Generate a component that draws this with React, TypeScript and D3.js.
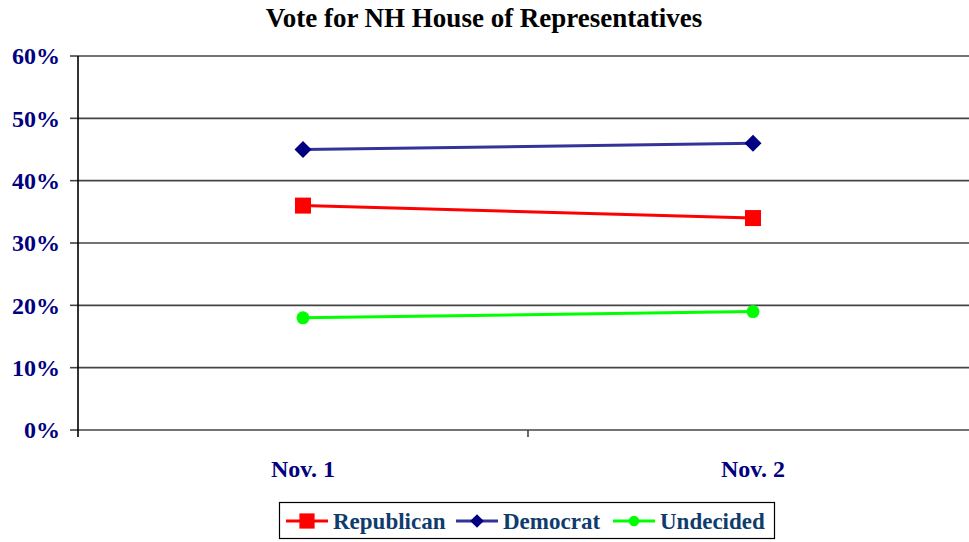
import React from "react";
import * as d3 from "d3";

const categories = ["Nov. 1", "Nov. 2"];
const republican = [36, 34];
const democrat = [45, 46];
const undecided = [18, 19];
const yTicks = [0, 10, 20, 30, 40, 50, 60];

const W = 969;
const H = 542;
const left = 78;
const right = 978;
const top = 56;
const bottom = 430;

export default function App() {
  const x = d3.scaleBand<string>().domain(categories).range([left, right]);
  const y = d3.scaleLinear().domain([0, 60]).range([bottom, top]);
  const cx = (c: string) => (x(c) as number) + x.bandwidth() / 2;
  const line = d3
    .line<number>()
    .x((_, i) => cx(categories[i]))
    .y((d) => y(d));

  const axisColor = "#000080";
  const legendColor = "#0F3C6E";
  const font = "'Liberation Serif', 'Times New Roman', serif";

  const series = [
    { name: "Republican", data: republican, line: "#FF0000", fill: "#FF0000", shape: "square", lx: 286 },
    { name: "Democrat", data: democrat, line: "#333399", fill: "#000080", shape: "diamond", lx: 456 },
    { name: "Undecided", data: undecided, line: "#00FF00", fill: "#00FF00", shape: "circle", lx: 613 },
  ];

  const marker = (shape: string, px: number, py: number, fill: string, key: string, scale = 1) => {
    if (shape === "square") {
      const s = 16 * scale;
      return <rect key={key} x={px - s / 2} y={py - s / 2} width={s} height={s} fill={fill} />;
    }
    if (shape === "diamond") {
      const r = 8.5 * scale;
      return (
        <path
          key={key}
          d={`M${px},${py - r}L${px + r},${py}L${px},${py + r}L${px - r},${py}Z`}
          fill={fill}
        />
      );
    }
    return <circle key={key} cx={px} cy={py} r={6.5 * scale} fill={fill} />;
  };

  return (
    <svg
      width={W}
      height={H}
      style={{ position: "absolute", left: 0, top: 0, background: "#fff" }}
      fontFamily={font}
    >
      <text x={484} y={27} textAnchor="middle" fontSize={27} fontWeight="bold" fill="#000">
        Vote for NH House of Representatives
      </text>

      {yTicks.map((t) => (
        <g key={t}>
          <line x1={left} x2={W} y1={y(t)} y2={y(t)} stroke="#444" strokeWidth={1.6} />
          <line x1={70} x2={left} y1={y(t)} y2={y(t)} stroke="#444" strokeWidth={1.6} />
          <text
            x={60}
            y={y(t)}
            dy="0.35em"
            textAnchor="end"
            fontSize={24}
            fontWeight="bold"
            fill={axisColor}
          >
            {t}%
          </text>
        </g>
      ))}
      <line x1={left} x2={left} y1={top} y2={bottom + 7} stroke="#000" strokeWidth={1.6} />
      <line
        x1={(x(categories[1]) as number)}
        x2={(x(categories[1]) as number)}
        y1={bottom}
        y2={bottom + 7}
        stroke="#444"
        strokeWidth={1.6}
      />
      {categories.map((c) => (
        <text
          key={c}
          x={cx(c)}
          y={477}
          textAnchor="middle"
          fontSize={24}
          fontWeight="bold"
          fill={axisColor}
        >
          {c}
        </text>
      ))}

      {series.map((s) => (
        <g key={s.name}>
          <path d={line(s.data) as string} fill="none" stroke={s.line} strokeWidth={3} />
          {s.data.map((v, i) => marker(s.shape, cx(categories[i]), y(v), s.fill, s.name + i))}
        </g>
      ))}

      <rect x={279.5} y={502.5} width={495} height={36} fill="#fff" stroke="#000" strokeWidth={1.2} />
      {series.map((s) => (
        <g key={"lg" + s.name}>
          <line x1={s.lx} x2={s.lx + 42} y1={521} y2={521} stroke={s.line} strokeWidth={3} />
          {marker(s.shape, s.lx + 21, 521, s.fill, "lm" + s.name, s.shape === "square" ? 0.95 : 0.8)}
          <text x={s.lx + 47} y={529} fontSize={23} fontWeight="bold" fill={legendColor}>
            {s.name}
          </text>
        </g>
      ))}
    </svg>
  );
}
